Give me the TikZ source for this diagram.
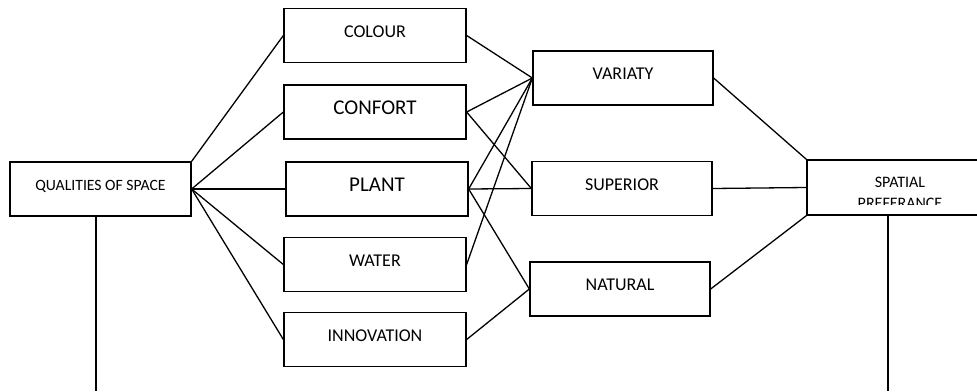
\documentclass[tikz,border=0pt]{standalone}
\usepackage{fontspec}
\setmainfont{Carlito}
\usetikzlibrary{positioning}

\begin{document}
\begin{tikzpicture}[
                x=1pt,y=-1pt,
                line width=1.3pt,
                box/.style={draw,align=center,text=black,inner sep=0pt,
                            minimum width=182pt,minimum height=54pt,text depth=8pt,
                            font=\fontsize{18}{21}\selectfont},
                bigbox/.style={box,font=\fontsize{21}{25}\selectfont},
                smallbox/.style={box,font=\fontsize{15.7}{19}\selectfont}] %

\useasboundingbox (0,0) rectangle (977,391);
\clip (0,0) rectangle (977,391);

% qualities
                    \node[smallbox,minimum width=181pt] (QUAL) at (100.5,189) {QUALITIES OF SPACE};
                    \coordinate (QUALEND) at (96,391);
                    \draw (QUAL.south -| QUALEND) -- (QUALEND);

% 1
                    \node[box] (COLOUR) at (375,35.5) {COLOUR};
                    \node[bigbox] (CONFORT) at (375,112) {CONFORT};
                    \node[bigbox] (PLANT) at (377,189) {PLANT};
                    \node[box] (WATER) at (375,264.5) {WATER};
                    \node[box] (INNOV) at (375,339.5) {INNOVATION};

                    \draw (QUAL.north east) -- (COLOUR.west);
                    \draw (QUAL.east) -- (CONFORT.west);
                    \draw (QUAL.east) -- (PLANT.west);
                    \draw (QUAL.east) -- (WATER.west);
                    \draw (QUAL.east) -- (INNOV.west);

% 2
                    \node[box,minimum width=180pt] (VARIATY) at (623,78) {VARIATY};
                    \node[box,minimum width=180pt] (SUPERIOR) at (622,188.5) {SUPERIOR};
                    \node[box,minimum width=180pt] (NATURAL) at (620,289) {NATURAL};

                    \draw (COLOUR.east) -- (VARIATY.west);
                    \draw (CONFORT.east) -- (VARIATY.west);
                    \draw (CONFORT.east) -- (SUPERIOR.west);
                    \draw (PLANT.east) -- (VARIATY.west);
                    \draw (PLANT.east) -- (SUPERIOR.west);
                    \draw (PLANT.east) -- (NATURAL.west);
                    \draw (WATER.east) -- (VARIATY.west);
                    \draw (INNOV.east) -- (NATURAL.west);

% 3
                    \node[box,minimum width=186pt,minimum height=55pt] (SPATIAL) at (900,187.5) {};
                    \begin{scope}
                    \clip (SPATIAL.north west) rectangle ([yshift=11pt]SPATIAL.south east);
                    \node[align=center,inner sep=0pt,font=\fontsize{16}{21}\selectfont] (SPATIALTXT) at (900,192.5) {SPATIAL\\PREFERANCE};
                    \end{scope}
                    \coordinate (SPATIALEND) at (888,391);
                    \draw (SPATIAL.south -| SPATIALEND) -- (SPATIALEND);

                    \draw (VARIATY.east) -- (SPATIAL.north west);
                    \draw (SUPERIOR.east) -- (SPATIAL.west);
                    \draw (NATURAL.east) -- (SPATIAL.south west);

\end{tikzpicture}
\end{document}
